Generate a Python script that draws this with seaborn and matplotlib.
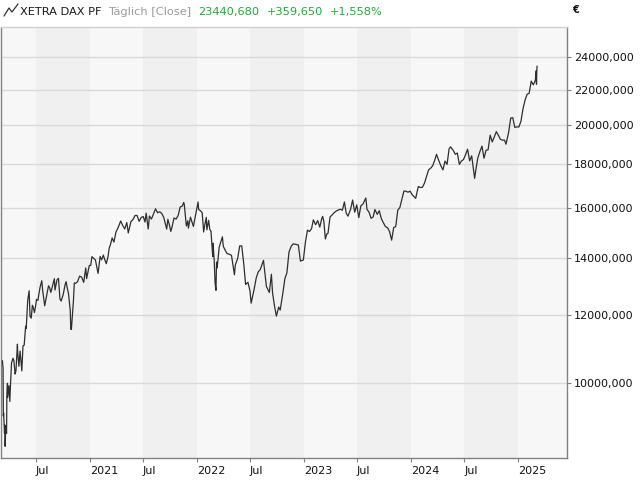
import matplotlib
matplotlib.use('Agg')
import matplotlib.pyplot as plt
from matplotlib.lines import Line2D
import matplotlib.ticker as mticker
import seaborn as sns
import pandas as pd

dates = [
    '2020-03-09', '2020-03-10', '2020-03-11', '2020-03-12', '2020-03-13', '2020-03-16', '2020-03-17',
    '2020-03-18', '2020-03-19', '2020-03-20', '2020-03-23', '2020-03-24', '2020-03-25', '2020-03-26',
    '2020-03-27', '2020-03-31', '2020-04-03', '2020-04-06', '2020-04-09', '2020-04-14', '2020-04-17',
    '2020-04-21', '2020-04-24', '2020-04-29', '2020-04-30', '2020-05-04', '2020-05-08', '2020-05-14',
    '2020-05-18', '2020-05-22', '2020-05-27', '2020-05-29', '2020-06-03', '2020-06-08', '2020-06-11',
    '2020-06-15', '2020-06-19', '2020-06-22', '2020-06-26', '2020-06-30', '2020-07-03', '2020-07-08',
    '2020-07-10', '2020-07-15', '2020-07-21', '2020-07-24', '2020-07-31', '2020-08-07', '2020-08-13',
    '2020-08-17', '2020-08-21', '2020-08-28', '2020-09-02', '2020-09-04', '2020-09-11', '2020-09-16',
    '2020-09-21', '2020-09-25', '2020-10-02', '2020-10-09', '2020-10-12', '2020-10-16', '2020-10-20',
    '2020-10-26', '2020-10-28', '2020-10-30', '2020-11-03', '2020-11-06', '2020-11-09', '2020-11-13',
    '2020-11-20', '2020-11-27', '2020-12-04', '2020-12-11', '2020-12-18', '2020-12-21', '2020-12-30',
    '2021-01-04', '2021-01-08', '2021-01-14', '2021-01-20', '2021-01-25', '2021-01-29', '2021-02-05',
    '2021-02-10', '2021-02-16', '2021-02-19', '2021-02-26', '2021-03-04', '2021-03-08', '2021-03-12',
    '2021-03-18', '2021-03-24', '2021-03-31', '2021-04-09', '2021-04-16', '2021-04-23', '2021-04-30',
    '2021-05-07', '2021-05-12', '2021-05-21', '2021-05-28', '2021-06-04', '2021-06-11', '2021-06-18',
    '2021-06-25', '2021-07-02', '2021-07-08', '2021-07-12', '2021-07-19', '2021-07-23', '2021-07-30',
    '2021-08-06', '2021-08-13', '2021-08-20', '2021-08-27', '2021-09-03', '2021-09-10', '2021-09-20',
    '2021-09-24', '2021-09-30', '2021-10-04', '2021-10-08', '2021-10-15', '2021-10-22', '2021-10-29',
    '2021-11-05', '2021-11-12', '2021-11-17', '2021-11-19', '2021-11-26', '2021-12-01', '2021-12-03',
    '2021-12-10', '2021-12-20', '2021-12-30',
    '2022-01-05', '2022-01-07', '2022-01-14', '2022-01-19', '2022-01-24', '2022-01-28', '2022-02-02',
    '2022-02-04', '2022-02-10', '2022-02-14', '2022-02-18', '2022-02-24', '2022-02-25', '2022-03-01',
    '2022-03-04', '2022-03-07', '2022-03-09', '2022-03-11', '2022-03-18', '2022-03-29', '2022-04-01',
    '2022-04-08', '2022-04-14', '2022-04-22', '2022-04-29', '2022-05-09', '2022-05-12', '2022-05-20',
    '2022-05-27', '2022-06-03', '2022-06-10', '2022-06-16', '2022-06-24', '2022-07-01', '2022-07-05',
    '2022-07-15', '2022-07-22', '2022-07-29', '2022-08-05', '2022-08-16', '2022-08-26', '2022-09-05',
    '2022-09-12', '2022-09-16', '2022-09-23', '2022-09-29', '2022-10-07', '2022-10-12', '2022-10-21',
    '2022-10-28', '2022-11-04', '2022-11-11', '2022-11-18', '2022-11-25', '2022-12-02', '2022-12-13',
    '2022-12-20', '2022-12-30',
    '2023-01-06', '2023-01-13', '2023-01-20', '2023-01-27', '2023-02-02', '2023-02-10', '2023-02-17',
    '2023-02-24', '2023-03-03', '2023-03-06', '2023-03-10', '2023-03-15', '2023-03-20', '2023-03-24',
    '2023-03-31', '2023-04-14', '2023-04-21', '2023-04-28', '2023-05-05', '2023-05-12', '2023-05-19',
    '2023-05-25', '2023-05-31', '2023-06-09', '2023-06-16', '2023-06-23', '2023-06-30', '2023-07-07',
    '2023-07-14', '2023-07-21', '2023-07-31', '2023-08-04', '2023-08-11', '2023-08-18', '2023-08-25',
    '2023-08-31', '2023-09-08', '2023-09-15', '2023-09-22', '2023-09-29', '2023-10-06', '2023-10-13',
    '2023-10-20', '2023-10-27', '2023-11-03', '2023-11-10', '2023-11-17', '2023-11-24', '2023-12-01',
    '2023-12-08', '2023-12-14', '2023-12-22', '2023-12-29',
    '2024-01-05', '2024-01-17', '2024-01-26', '2024-02-02', '2024-02-09', '2024-02-16', '2024-02-23',
    '2024-03-01', '2024-03-08', '2024-03-15', '2024-03-22', '2024-03-28', '2024-04-05', '2024-04-12',
    '2024-04-19', '2024-04-26', '2024-05-03', '2024-05-10', '2024-05-15', '2024-05-24', '2024-05-31',
    '2024-06-07', '2024-06-14', '2024-06-21', '2024-06-28', '2024-07-05', '2024-07-12', '2024-07-19',
    '2024-07-26', '2024-08-02', '2024-08-05', '2024-08-09', '2024-08-16', '2024-08-23', '2024-08-30',
    '2024-09-06', '2024-09-13', '2024-09-20', '2024-09-27', '2024-10-04', '2024-10-11', '2024-10-18',
    '2024-10-25', '2024-11-01', '2024-11-08', '2024-11-15', '2024-11-20', '2024-11-29', '2024-12-06',
    '2024-12-13', '2024-12-20', '2024-12-30',
    '2025-01-03', '2025-01-10', '2025-01-17', '2025-01-24', '2025-01-31', '2025-02-07', '2025-02-14',
    '2025-02-21', '2025-02-28', '2025-03-03', '2025-03-04', '2025-03-05', '2025-03-06',
]
closes = [
    10625, 10475, 10439, 9161, 9232, 8742, 8939,
    8442, 8610, 8929, 8742, 9701, 9874, 10000,
    9633, 9936, 9525, 10075, 10565, 10696, 10626,
    10250, 10336, 11107, 10862, 10467, 10904, 10337,
    11058, 11074, 11657, 11587, 12487, 12820, 11970,
    11911, 12331, 12262, 12089, 12311, 12528, 12494,
    12633, 12931, 13171, 12838, 12313, 12674, 12994,
    12920, 12765, 13033, 13243, 12843, 13202, 13256,
    12542, 12469, 12689, 13051, 13138, 12909, 12737,
    12178, 11561, 11556, 12089, 12480, 13095, 13077,
    13137, 13335, 13298, 13114, 13630, 13247, 13719,
    13726, 14050, 13989, 13922, 13643, 13433, 14057,
    13933, 14110, 13993, 13786, 14056, 14380, 14502,
    14776, 14611, 15008, 15234, 15460, 15280, 15136,
    15400, 14975, 15438, 15520, 15693, 15693, 15448,
    15607, 15650, 15420, 15790, 15133, 15669, 15544,
    15761, 15977, 15808, 15851, 15781, 15609, 15132,
    15531, 15260, 15036, 15206, 15587, 15543, 15688,
    16054, 16094, 16251, 16160, 15257, 15472, 15170,
    15623, 15239, 15885,
    16271, 15948, 15883, 15810, 15011, 15318, 15613,
    15100, 15490, 15114, 15042, 14052, 14567, 13905,
    13094, 12835, 13848, 13628, 14413, 14820, 14446,
    14284, 14164, 14142, 14098, 13381, 13740, 13982,
    14462, 14461, 13761, 13038, 13118, 12813, 12401,
    12864, 13254, 13484, 13573, 13910, 12971, 12761,
    13402, 12741, 12284, 11976, 12273, 12172, 12731,
    13243, 13460, 14224, 14432, 14541, 14529, 14498,
    13884, 13924,
    14610, 15087, 15033, 15150, 15509, 15308, 15482,
    15210, 15578, 15654, 15428, 14735, 14933, 14957,
    15629, 15808, 15882, 15922, 15961, 15914, 16275,
    15794, 15664, 15949, 16358, 15830, 16148, 15603,
    16105, 16177, 16447, 15952, 15832, 15574, 15632,
    15947, 15740, 15894, 15557, 15387, 15230, 15187,
    15030, 14687, 15190, 15234, 15919, 16029, 16397,
    16759, 16752, 16706, 16752,
    16594, 16432, 16961, 16918, 16926, 17117, 17419,
    17735, 17815, 17936, 18206, 18492, 18175, 17930,
    17737, 18161, 18001, 18773, 18869, 18693, 18498,
    18557, 18002, 18164, 18235, 18476, 18748, 18172,
    18418, 17661, 17339, 17723, 18322, 18633, 18907,
    18302, 18699, 18720, 19474, 19121, 19374, 19657,
    19464, 19255, 19215, 19211, 19004, 19626, 20385,
    20406, 19885, 19909,
    19906, 20215, 20903, 21394, 21732, 21787, 22513,
    22287, 22551, 23147, 22327, 23081, 23441,
]

y_ticks = [10000, 12000, 14000, 16000, 18000, 20000, 22000, 24000]
y_tick_labels = ['10000,000', '12000,000', '14000,000', '16000,000',
                 '18000,000', '20000,000', '22000,000', '24000,000']
x_tick_dates = ['2020-07-01', '2021-01-01', '2021-07-01', '2022-01-01', '2022-07-01',
                '2023-01-01', '2023-07-01', '2024-01-01', '2024-07-01', '2025-01-01']
x_tick_labels = ['Jul', '2021', 'Jul', '2022', 'Jul', '2023', 'Jul', '2024', 'Jul', '2025']
band_years = [2020, 2021, 2022, 2023, 2024, 2025]

header_texts = ['XETRA DAX PF', 'Täglich [Close]', '23440,680', '+359,650', '+1,558%']
header_colors = ['#1a1a1a', '#9a9a9a', '#22a83a', '#22a83a', '#22a83a']

df = pd.DataFrame({'date': pd.to_datetime(dates), 'close': closes})

sns.set_theme(style='white')
plt.rcParams['font.family'] = ['DejaVu Sans']

fig = plt.figure(figsize=(6.4, 4.8), dpi=100)
fig.patch.set_facecolor('white')
ax = fig.add_axes([1 / 640, 22 / 480, 566 / 640, 431 / 480])
ax.set_facecolor('#f7f7f7')

# second half of each year is shaded a bit darker
for yr in band_years:
    ax.axvspan(pd.Timestamp(f'{yr}-07-01'), pd.Timestamp(f'{yr + 1}-01-01'),
               color='#f0f0f0', lw=0, zorder=0)

sns.lineplot(data=df, x='date', y='close', ax=ax, color='#2e2e2e', lw=0.9, zorder=3)

ax.set_yscale('log')
ax.set_ylim(8182, 26033)
ax.set_xlim(pd.Timestamp('2020-03-04'), pd.Timestamp('2025-06-16'))
ax.yaxis.tick_right()
ax.yaxis.set_minor_locator(mticker.NullLocator())
ax.yaxis.set_minor_formatter(mticker.NullFormatter())
ax.set_yticks(y_ticks)
ax.set_yticklabels(y_tick_labels)
ax.set_xticks(pd.to_datetime(x_tick_dates))
ax.set_xticklabels(x_tick_labels, ha='left')
ax.set_xlabel('')
ax.set_ylabel('')

ax.yaxis.grid(True, color='#d9d9d9', lw=1.0, zorder=1)
ax.xaxis.grid(False)
ax.set_axisbelow(True)
ax.tick_params(axis='both', which='major', length=3, width=0.8, color='#808080',
               labelsize=8, labelcolor='#111111', pad=2)
ax.tick_params(axis='y', right=True, left=False)
ax.tick_params(axis='x', bottom=True, pad=3)

for side in ['left', 'bottom', 'right']:
    ax.spines[side].set_color('#808080')
    ax.spines[side].set_linewidth(1.0)
ax.spines['top'].set_color('#cfcfcf')
ax.spines['top'].set_linewidth(1.0)

# header: small chart icon and the quote line
fig.add_artist(Line2D([4 / 640, 9 / 640, 12 / 640, 18 / 640],
                      [1 - 16 / 480, 1 - 8 / 480, 1 - 12 / 480, 1 - 4 / 480],
                      color='#333333', lw=0.9))
renderer = fig.canvas.get_renderer()
x = 20
for s, c in zip(header_texts, header_colors):
    t = fig.text(x / 640, 1 - 12 / 480, s, color=c, fontsize=8.2, va='center', ha='left')
    x += t.get_window_extent(renderer=renderer).width + 7

fig.text(572 / 640, 1 - 10 / 480, '€', fontsize=7, fontweight='bold', color='#111111',
         va='center', ha='left')

fig.savefig('out.png', dpi=100)
